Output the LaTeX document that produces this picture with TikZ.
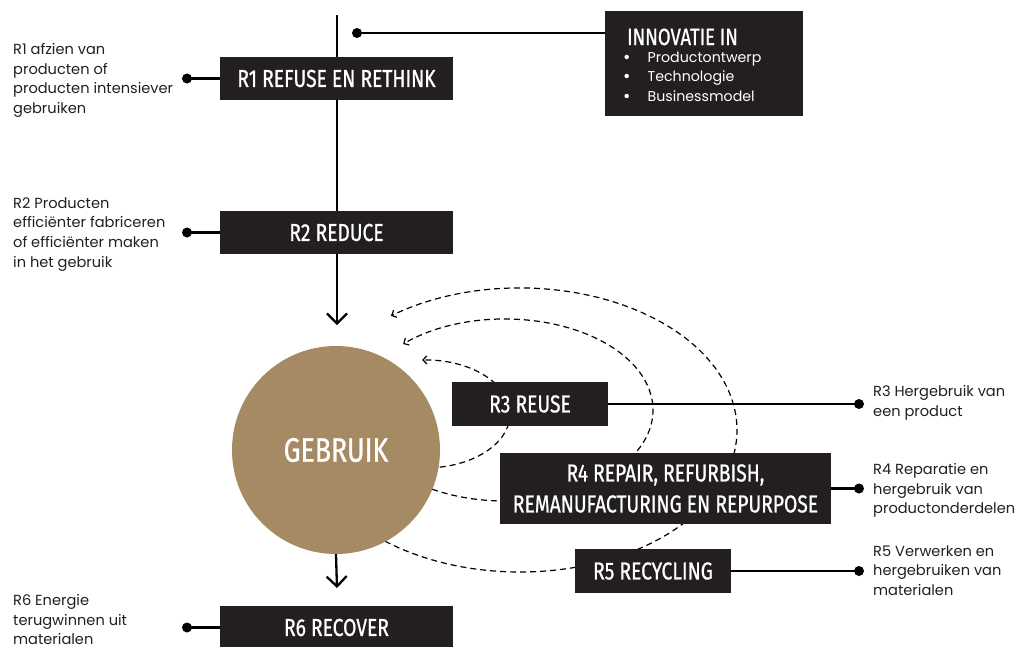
\documentclass[tikz,border=0pt]{standalone}
\usepackage{fontspec}
\setmainfont{Poppins}
\newfontfamily\titlefont[FakeStretch=0.785, FakeBold=0.8]{Fira Sans}
\usetikzlibrary{arrows.meta}
\definecolor{boxc}{HTML}{231F20}
\definecolor{gold}{HTML}{A68A64}
\definecolor{txt}{HTML}{231F20}
\tikzset{
  box/.style={fill=boxc, text=white, font=\titlefont\fontsize{24.5}{31}\selectfont, inner sep=0pt, minimum height=43pt, align=center},
  dot/.style={circle, fill=black, inner sep=0pt, minimum size=10pt},
  conn/.style={line width=2.5pt},
  mainarrow/.style={line width=2.3pt, -{Straight Barb[length=10pt,width=20pt]}},
  dsh/.style={line width=1.2pt, dash pattern=on 6pt off 4pt, -{Straight Barb[length=4pt,width=8pt]}},
  ltext/.style={font=\fontsize{14.6}{19.7}\selectfont, text=txt, align=left, inner sep=0pt, anchor=north west},
}
\begin{document}
\begin{tikzpicture}[x=1pt,y=1pt]
\useasboundingbox (0,0) rectangle (1026,-646);
% coordinates
\coordinate (top) at (337,-15);
\coordinate (tip1) at (337,-325);
\coordinate (tip2) at (337,-588);
\coordinate (eo) at (520,-430);
\coordinate (em) at (505,-410);
\coordinate (ei) at (425,-414);
% main line
\draw[mainarrow] (top) -- (tip1);
% dashed loops
\draw[dsh] ([shift={(231.5:217 and 142)}]eo) arc[start angle=231.5, end angle=486.5, x radius=217, y radius=142];
\draw[dsh] ([shift={(240.5:148 and 91)}]em) arc[start angle=240.5, end angle=493.5, x radius=148, y radius=91];
\draw[dsh] ([shift={(280:85 and 54)}]ei) arc[start angle=280, end angle=452, x radius=85, y radius=54];
% circle
\node[circle, fill=gold, minimum size=208pt, inner sep=0pt, text=white, font=\titlefont\fontsize{34}{40}\selectfont] (use) at (336,-450) {GEBRUIK};
\draw[mainarrow] (use.south) -- (tip2);
% boxes
\node[box, minimum width=233pt] (r1) at (336.5,-78.5) {R1 REFUSE EN RETHINK};
\node[box, minimum width=233pt] (r2) at (336.5,-232.5) {R2 REDUCE};
\node[box, minimum width=156pt, minimum height=44pt] (r3) at (530,-404) {R3 REUSE};
\node[box, minimum width=331pt, minimum height=71pt] (r4) at (665.5,-488.5) {R4 REPAIR, REFURBISH,\\REMANUFACTURING EN REPURPOSE};
\node[box, minimum width=156pt, minimum height=44pt] (r5) at (653,-571) {R5 RECYCLING};
\node[box, minimum width=233pt] (r6) at (336.5,-627.5) {R6 RECOVER};
\node[fill=boxc, minimum width=198pt, minimum height=105pt, inner sep=0pt] (inn) at (704,-63.5) {};
\node[text=white, font=\titlefont\fontsize{23.5}{24}\selectfont, inner sep=0pt, anchor=base west] (innt) at (627,-45) {INNOVATIE IN};
\node[ltext, text=white, font=\fontsize{14.2}{19.2}\selectfont] (innb) at (623,-52) {\raisebox{-1pt}{\fontsize{18}{18}\selectfont•}\hspace{17pt}Productontwerp\\\raisebox{-1pt}{\fontsize{18}{18}\selectfont•}\hspace{17pt}Technologie\\\raisebox{-1pt}{\fontsize{18}{18}\selectfont•}\hspace{17pt}Businessmodel};
% dots and connectors
\node[dot] (dI) at (357,-33) {};
\draw[conn] (dI.center) -- (dI.center -| inn.west);
\node[dot] (d1) at (187,-78.5) {};
\draw[conn] (d1.center) -- (r1.west);
\node[dot] (d2) at (187,-232.5) {};
\draw[conn] (d2.center) -- (r2.west);
\node[dot] (d6) at (187,-627.5) {};
\draw[conn] (d6.center) -- (r6.west);
\node[dot] (d3) at (859,-404) {};
\draw[conn] (r3.east) -- (d3.center);
\node[dot] (d4) at (859,-488.5) {};
\draw[conn] (r4.east) -- (d4.center);
\node[dot] (d5) at (859,-571) {};
\draw[conn] (r5.east) -- (d5.center);
% texts
\node[ltext] (t1) at (13,-43) {R1 afzien van\\producten of\\producten intensiever\\gebruiken};
\node[ltext] (t2) at (13,-197) {R2 Producten\\efficiënter fabriceren\\of efficiënter maken\\in het gebruik};
\node[ltext] (t6) at (13,-594) {R6 Energie\\terugwinnen uit\\materialen};
\node[ltext] (t3) at (873,-385) {R3 Hergebruik van\\een product};
\node[ltext] (t4) at (873,-463) {R4 Reparatie en\\hergebruik van\\productonderdelen};
\node[ltext] (t5) at (873,-545) {R5 Verwerken en\\hergebruiken van\\materialen};
\end{tikzpicture}
\end{document}
